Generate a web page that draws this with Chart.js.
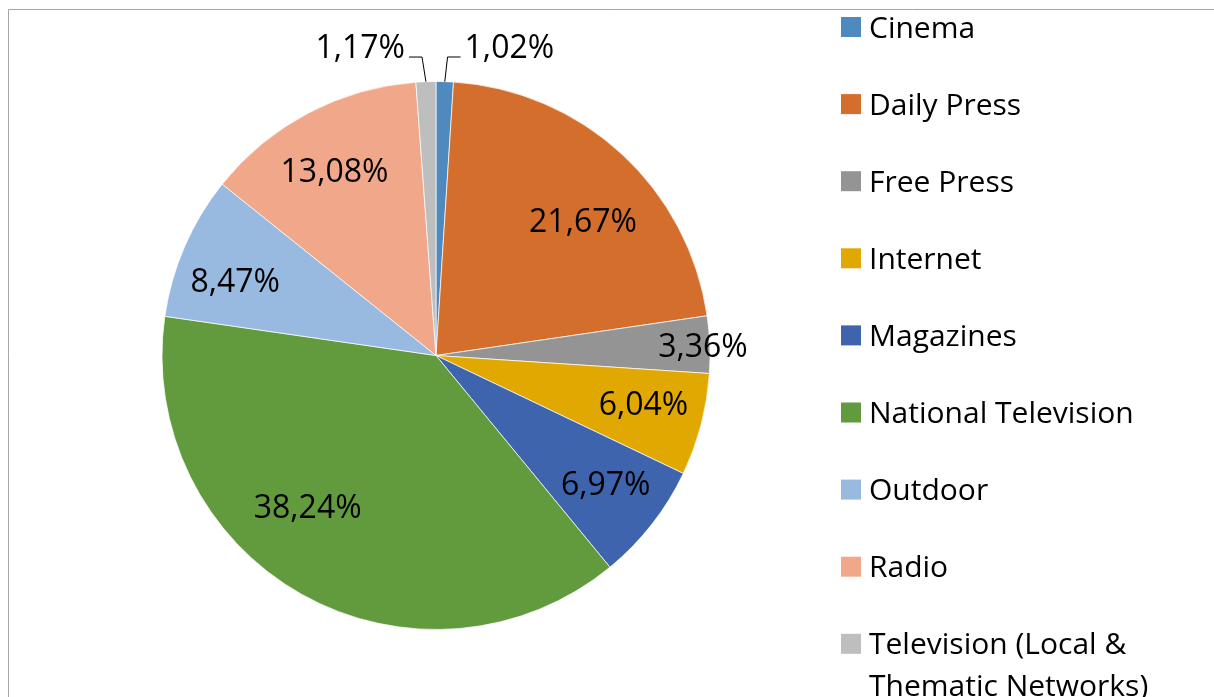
<!DOCTYPE html>
<html>
<head>
<meta charset="utf-8">
<script src="https://cdn.jsdelivr.net/npm/chart.js@4"></script>
<style>
    html, body { margin: 0; padding: 0; background: #fff; }
    #wrap { width: 1214px; height: 697px; position: relative; }
</style>
</head>
<body>
<div id="wrap"><canvas id="mediaShare"></canvas></div>
<script>
const categories = ["Cinema", "Daily Press", "Free Press", "Internet", "Magazines",
    "National Television", "Outdoor", "Radio", "Television (Local & Thematic Networks)"];
const shares = [1.02, 21.67, 3.36, 6.04, 6.97, 38.24, 8.47, 13.08, 1.17];
const shareLabels = ["1,02%", "21,67%", "3,36%", "6,04%", "6,97%", "38,24%", "8,47%", "13,08%", "1,17%"];
const colors = ["#4f8abf", "#d36e2c", "#949494", "#e2a802", "#3e64ae", "#629a3e", "#99bae0", "#f1a88a", "#bebebe"];

// label placement: fraction of radius, angle shift (deg), or outside with a leader line
const labelPlace = [
    { outside: true, side: "right" },
    { f: 0.728, shift: 4.8 },
    { f: 0.975, shift: 0.2 },
    { f: 0.778, shift: -1.4 },
    { f: 0.777, shift: -0.9 },
    { f: 0.724, shift: 10.9 },
    { f: 0.781, shift: -3.2 },
    { f: 0.77, shift: -1.0 },
    { outside: true, side: "left" }
];

const FONT = "'Open Sans', sans-serif";

const framePlugin = {
    id: "frame",
    beforeDraw(chart) {
        const ctx = chart.ctx;
        ctx.save();
        ctx.strokeStyle = "#a6a6a6";
        ctx.lineWidth = 1;
        ctx.beginPath();
        ctx.moveTo(8.5, chart.height);
        ctx.lineTo(8.5, 9.5);
        ctx.lineTo(chart.width, 9.5);
        ctx.stroke();
        ctx.restore();
    }
};

const sliceLabels = {
    id: "sliceLabels",
    afterDatasetsDraw(chart) {
        const ctx = chart.ctx;
        const arcs = chart.getDatasetMeta(0).data;
        ctx.save();
        ctx.font = "32px " + FONT;
        ctx.fillStyle = "#000";
        ctx.strokeStyle = "#000";
        ctx.lineWidth = 1;
        ctx.textBaseline = "middle";
        arcs.forEach((arc, i) => {
            const p = labelPlace[i];
            const r = arc.outerRadius;
            const mid = (arc.startAngle + arc.endAngle) / 2;
            if (p.outside) {
                const px = arc.x + Math.cos(mid) * r;
                const py = arc.y + Math.sin(mid) * r;
                const ex = arc.x + Math.cos(mid) * r * 1.09 + (p.side === "right" ? 2 : -3);
                const ey = arc.y + Math.sin(mid) * r * 1.09;
                const dir = p.side === "right" ? 1 : -1;
                const lx = ex + dir * 13;
                ctx.beginPath();
                ctx.moveTo(px, py);
                ctx.lineTo(ex, ey);
                ctx.lineTo(lx, ey);
                ctx.stroke();
                ctx.textAlign = p.side === "right" ? "left" : "right";
                ctx.fillText(shareLabels[i], lx + dir * 4, ey - 8);
            } else {
                const a = mid + p.shift * Math.PI / 180;
                ctx.textAlign = "center";
                ctx.fillText(shareLabels[i], arc.x + Math.cos(a) * r * p.f, arc.y + Math.sin(a) * r * p.f + 2);
            }
        });
        ctx.restore();
    }
};

const sideLegend = {
    id: "sideLegend",
    afterDraw(chart) {
        const ctx = chart.ctx;
        const x0 = 841, y0 = 27, step = 77.1, box = 20, maxW = 300, lineH = 42;
        ctx.save();
        ctx.font = "30px " + FONT;
        ctx.textBaseline = "middle";
        ctx.textAlign = "left";
        categories.forEach((name, i) => {
            const y = y0 + i * step;
            ctx.fillStyle = colors[i];
            ctx.fillRect(x0, y - box / 2, box, box);
            ctx.fillStyle = "#000";
            const words = name.split(" ");
            const lines = [];
            let line = "";
            words.forEach(w => {
                const test = line ? line + " " + w : w;
                if (ctx.measureText(test).width > maxW && line) {
                    lines.push(line);
                    line = w;
                } else {
                    line = test;
                }
            });
            lines.push(line);
            lines.forEach((l, k) => ctx.fillText(l, x0 + 28, y + 2 + k * lineH));
        });
        ctx.restore();
    }
};

new Chart(document.getElementById("mediaShare"), {
    type: "pie",
    data: {
        labels: categories,
        datasets: [{
            data: shares,
            backgroundColor: colors,
            borderColor: "rgba(255,255,255,0.7)",
            borderWidth: 1
        }]
    },
    options: {
        responsive: true,
        maintainAspectRatio: false,
        animation: false,
        layout: {
            padding: { left: 161.5, top: 81, right: 503.5, bottom: 67 }
        },
        plugins: {
            legend: { display: false },
            tooltip: { enabled: false }
        }
    },
    plugins: [framePlugin, sliceLabels, sideLegend]
});
</script>
</body>
</html>
